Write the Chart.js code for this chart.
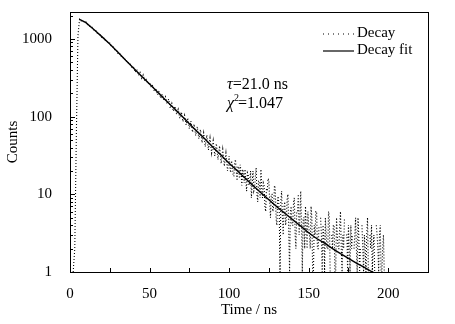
<!DOCTYPE html>
<html><head><meta charset="utf-8">
<script src="https://cdn.jsdelivr.net/npm/chart.js@4/dist/chart.umd.min.js"></script>
<style>html,body{margin:0;padding:0;background:#fff}#wrap{width:455px;height:324px}</style>
</head><body><div id="wrap"><canvas id="c" width="455" height="324"></canvas></div>
<script>
const decayTime = [0,1,2,3,4,5,6,7,8,9,10,11,12,13,14,15,16,17,18,19,20,21,22,23,24,25,26,27,28,29,30,31,32,33,34,35,36,37,38,39,40,41,42,43,44,45,46,47,48,49,50,51,52,53,54,55,56,57,58,59,60,61,62,63,64,65,66,67,68,69,70,71,72,73,74,75,76,77,78,79,80,81,82,83,84,85,86,87,88,89,90,91,92,93,94,95,96,97,98,99,
100,100.5,101,101.5,102,102.5,103,103.5,104,104.5,105,105.5,106,106.5,107,107.5,108,108.5,109,109.5,
110,110.5,111,111.5,112,112.5,113,113.5,114,114.5,115,115.5,116,116.5,117,117.5,118,118.5,119,119.5,
120,120.5,121,121.5,122,122.5,123,123.5,124,124.5,125,125.5,126,126.5,127,127.5,128,128.5,129,129.5,
130,130.5,131,131.5,132,132.5,133,133.5,134,134.5,135,135.5,136,136.5,137,137.5,138,138.5,139,139.5,
140,140.5,141,141.5,142,142.5,143,143.5,144,144.5,145,145.5,146,146.5,147,147.5,148,148.5,149,149.5,
150,150.5,151,151.5,152,152.5,153,153.5,154,154.5,155,155.5,156,156.5,157,157.5,158,158.5,159,159.5,
160,160.5,161,161.5,162,162.5,163,163.5,164,164.5,165,165.5,166,166.5,167,167.5,168,168.5,169,169.5,
170,170.5,171,171.5,172,172.5,173,173.5,174,174.5,175,175.5,176,176.5,177,177.5,178,178.5,179,179.5,
180,180.5,181,181.5,182,182.5,183,183.5,184,184.5,185,185.5,186,186.5,187,187.5,188,188.5,189,189.5,
190,190.5,191,191.5,192,192.5,193,193.5,194,194.5,195,195.5,196,196.5,197,197.5,198];
const decayCounts = [1,0,1,2,60,1100,1790,1705,1742,1630,1655,1530,1512,1398,1405,1290,1302,1188,1175,1131,1046,1048,955,962,873,880,801,795,728,731,652,668,598,601,540,549,489,497,471,421,
430,372,405,340,370,312,345,285,300,262,275,238,255,212,232,190,214,172,195,160,
180,145,168,128,148,117,136,106,124,95,115,86,104,78,96,70,88,63,80,57,74,52,68,46,62,41,58,37,53,34,49,31,45,28,42,25,38,23,34,20,
31,22,19,27,24,18,17,25,28,20,15,23,22,16,24,19,13,21,19,14,
21,15,11,19,18,13,15,20,9,14,20,11,12,17,22,10,8,15,14,9,
21,12,9,14,13,7,6,12,11,16,15,8,5,10,10,6,7,13,12,5,
4,9,9,6,1,8,11,5,3,7,8,4,5,9,10,3,1,6,7,4,
4,8,9,3,2,6,6,10,3,5,11,4,1,5,5,2,7,4,2,6,
4,3,2,7,5,1,1,4,3,6,6,2,2,4,0,5,3,1,4,3,
1,5,3,2,2,6,5,1,0,3,2,4,4,1,1,5,3,2,2,4,
6,2,1,3,2,5,0,3,3,1,4,2,1,4,2,3,0,2,3,5,
2,1,5,3,1,2,0,4,2,1,3,2,1,3,5,1,0,3,2,4,
1,2,3,1,0,4,3,2,1,3,4,1,1,2,3,1,1];
const fitTime = [6,10,15,20,25,30,35,40,45,50,55,60,65,70,75,80,85,90,95,100,105,110,115,120,125,130,135,140,145,150,155,160,165,170,175,180,185,190,195,198];
const fitCounts = [1780,1620,1320,1070,860,680,530,420,330,262,207,164,130,103,81,64,51,40,31.8,25.1,20.2,16.2,13.0,10.5,8.5,6.9,5.7,4.7,3.9,3.2,2.7,2.35,2.0,1.72,1.5,1.3,1.15,1.0,0.9,0.85];
const xTickValues = [0,25,50,75,100,125,150,175,200,225];
const xTickLabels = [0,50,100,150,200];
const yTickLabels = [1,10,100,1000];
const seriesNames = ['Decay','Decay fit'];

const FONT = 'Liberation Serif, Times New Roman, serif';

const decayData = decayTime.map((t,i)=>({x:t,y:decayCounts[i]}));
const fitData = fitTime.map((t,i)=>({x:t,y:fitCounts[i]}));

const yTickValues = [];
[1,10,100,1000].forEach(d=>{for(let m=1;m<10;m++){ if(d*m<=2220) yTickValues.push(d*m);}});

const decorPlugin = {
  id:'decor',
  afterDraw(chart){
    const ctx = chart.ctx, a = chart.chartArea;
    const xs = chart.scales.x, ys = chart.scales.y;
    ctx.save();
    ctx.strokeStyle='#000'; ctx.lineWidth=1;
    ctx.strokeRect(Math.round(a.left)+0.5, Math.round(a.top)+0.5, Math.round(a.right-a.left), Math.round(a.bottom-a.top));
    ctx.beginPath();
    xTickValues.forEach(v=>{const px=Math.round(xs.getPixelForValue(v))+0.5; ctx.moveTo(px,a.bottom); ctx.lineTo(px,a.bottom-4);});
    yTickValues.forEach(v=>{const py=Math.round(ys.getPixelForValue(v))+0.5; const len = yTickLabels.includes(v)?5:3; ctx.moveTo(a.left,py); ctx.lineTo(a.left+len,py);});
    ctx.stroke();
    // legend
    ctx.fillStyle='#000';
    ctx.font='15px '+FONT;
    ctx.textBaseline='middle'; ctx.textAlign='left';
    const lx0=323, lx1=354, tx=357;
    ctx.setLineDash([1,4]); ctx.lineWidth=1.2;
    ctx.beginPath(); ctx.moveTo(lx0,34); ctx.lineTo(lx1,34); ctx.stroke();
    ctx.setLineDash([]); ctx.lineWidth=1.2;
    ctx.beginPath(); ctx.moveTo(lx0,51); ctx.lineTo(lx1,51); ctx.stroke();
    ctx.fillText(seriesNames[0], tx, 33);
    ctx.fillText(seriesNames[1], tx, 50);
    // annotation
    ctx.font='italic 16px '+FONT;
    ctx.fillText('τ', 227, 85);
    let w = ctx.measureText('τ').width;
    ctx.font='16px '+FONT;
    ctx.fillText('=21.0 ns', 227+w, 85);
    ctx.font='italic 16px '+FONT;
    ctx.fillText('χ', 227, 104);
    w = ctx.measureText('χ').width;
    ctx.font='10px '+FONT;
    ctx.fillText('2', 227+w, 98);
    const w2 = ctx.measureText('2').width;
    ctx.font='16px '+FONT;
    ctx.fillText('=1.047', 227+w+w2-1, 104);
    ctx.restore();
  }
};

new Chart(document.getElementById('c'), {
  type:'scatter',
  data:{datasets:[
    {label:seriesNames[0], data:decayData, showLine:true, borderColor:'#000', borderWidth:1.1, borderDash:[1,2], pointRadius:0, tension:0},
    {label:seriesNames[1], data:fitData, showLine:true, borderColor:'#000', borderWidth:1.4, pointRadius:0, tension:0}
  ]},
  options:{
    responsive:false, animation:false, devicePixelRatio:1,
    layout:{padding:{top:12,right:27,left:0,bottom:0}},
    plugins:{legend:{display:false}, tooltip:{enabled:false}},
    scales:{
      x:{type:'linear', min:0, max:225,
        afterBuildTicks(s){ s.ticks = xTickValues.map(v=>({value:v})); },
        ticks:{autoSkip:false, maxRotation:0, padding:5, color:'#000', font:{family:FONT,size:15},
          callback:(v)=> xTickLabels.includes(v)? String(v):''},
        grid:{display:false}, border:{display:true,color:'#000',width:1},
        title:{display:true,text:'Time / ns',color:'#000',font:{family:FONT,size:15},padding:{top:0,bottom:5}},
        afterFit(s){ s.height=52; s.paddingLeft=0; s.paddingRight=0; }
      },
      y:{type:'logarithmic', min:1, max:2220,
        afterBuildTicks(s){ s.ticks = yTickValues.map(v=>({value:v})); },
        ticks:{autoSkip:false, padding:10, color:'#000', font:{family:FONT,size:15},
          callback:(v)=> yTickLabels.includes(v)? String(v):''},
        grid:{display:false}, border:{display:true,color:'#000',width:1},
        title:{display:true,text:'Counts',color:'#000',font:{family:FONT,size:15},padding:{top:4,bottom:0}},
        afterFit(s){ s.width=70; s.paddingTop=0; s.paddingBottom=0; }
      }
    }
  },
  plugins:[decorPlugin]
});
</script></body></html>
